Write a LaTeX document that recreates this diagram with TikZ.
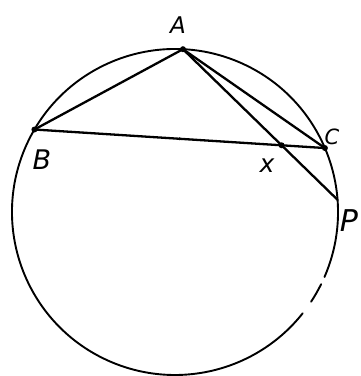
\documentclass[tikz,border=0pt]{standalone}
\usepackage{fontspec}
\newfontfamily\handfont{DejaVu Sans}
\usetikzlibrary{calc}
\begin{document}
\begin{tikzpicture}[x=1pt,y=1pt,
  seg/.style={line width=2.3pt,line cap=round,line join=round},
  rim/.style={line width=1.9pt,line cap=round},
  lbl/.style={inner sep=0pt}]
\useasboundingbox (0,0) rectangle (360,376);
\coordinate (O) at (175,164);
\def\R{163}
\coordinate (A) at ($(O)+(87.2:\R)$);
\coordinate (B) at ($(O)+(149.6:\R)$);
\coordinate (C) at ($(O)+(23.1:\R)$);
\coordinate (P) at ($(O)+(4.3:\R)$);
\coordinate (X) at (intersection of A--P and B--C);
\coordinate (M) at ($(B)!0.5!(C)$);
% circle with small gaps on lower right
\draw[rim] ($(O)+(-23.5:\R)$) arc[start angle=-23.5,end angle=321.6,radius=\R];
\draw[rim] ($(O)+(-33.4:\R)$) arc[start angle=-33.4,end angle=-26.3,radius=\R];
% chords
\draw[seg] (B) -- (A);
\draw[seg] (A) -- (C);
\draw[seg] (A) -- (P);
\draw[seg] (B) -- (C);
% points
\foreach \p in {A,B,C,X} \fill (\p) circle (3);
\fill (M) circle (1.6);
% labels
\node[lbl,font=\handfont\itshape\fontsize{23}{23}\selectfont] (lA) at (178,351) {A};
\node[lbl,font=\handfont\itshape\fontsize{27}{27}\selectfont] (lB) at (42,216) {B};
\node[lbl,font=\handfont\itshape\fontsize{21}{21}\selectfont] (lC) at (332,239) {C};
\node[lbl,font=\handfont\itshape\fontsize{25}{25}\selectfont] (lX) at (267,210) {x};
\node[lbl,font=\handfont\itshape\fontsize{30}{30}\selectfont] (lP) at (349,155) {P};
\end{tikzpicture}
\end{document}
